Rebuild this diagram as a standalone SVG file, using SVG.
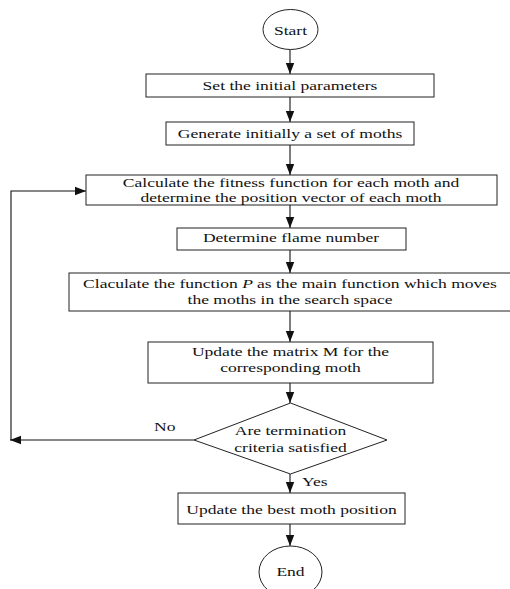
<svg xmlns="http://www.w3.org/2000/svg" width="510" height="589" viewBox="0 0 510 589">
<style>
.box{fill:#fff;stroke:#222;stroke-width:1}
.t{font-family:"Liberation Serif","Times New Roman",serif;font-size:13.5px;fill:#111;text-anchor:middle}
.l{font-family:"Liberation Serif","Times New Roman",serif;font-size:13.5px;fill:#111}
.c{fill:none;stroke:#111;stroke-width:1.1}
</style>
<defs>
<marker id="ah" markerUnits="userSpaceOnUse" markerWidth="12" markerHeight="10" refX="11" refY="5" orient="auto">
<path d="M0,0.8 L11,5 L0,9.2 Z" fill="#111"/>
</marker>
</defs>
<rect width="510" height="589" fill="#fff"/>
<g id="connectors">
<path class="c" d="M290,49.5 V74" marker-end="url(#ah)"/>
<path class="c" d="M290,97 V122" marker-end="url(#ah)"/>
<path class="c" d="M290,145 V175" marker-end="url(#ah)"/>
<path class="c" d="M290,205 V228" marker-end="url(#ah)"/>
<path class="c" d="M290,250 V273" marker-end="url(#ah)"/>
<path class="c" d="M290,311 V342" marker-end="url(#ah)"/>
<path class="c" d="M290,383 V403" marker-end="url(#ah)"/>
<path class="c" d="M290,474 V493" marker-end="url(#ah)"/>
<path class="c" d="M290,524 V546" marker-end="url(#ah)"/>
<path class="c" d="M194,440 H10" marker-end="url(#ah)"/>
<path class="c" d="M11,440 V191 H86" marker-end="url(#ah)"/>
<text class="l" transform="translate(154,431) scale(1.3,1)">No</text>
<text class="l" transform="translate(302,486) scale(1.3,1)">Yes</text>
</g>
<g id="start">
<ellipse class="box" cx="290.5" cy="29.5" rx="27.5" ry="20"/>
<text class="t" transform="translate(290.5,34.5) scale(1.3,1)">Start</text>
</g>
<g id="set-params">
<rect class="box" x="146" y="74" width="288" height="23"/>
<text class="t" transform="translate(290,90) scale(1.3,1)">Set the initial parameters</text>
</g>
<g id="generate">
<rect class="box" x="166" y="122" width="248" height="23"/>
<text class="t" transform="translate(290,138) scale(1.3,1)">Generate initially a set of moths</text>
</g>
<g id="fitness">
<rect class="box" x="86" y="175" width="411" height="30"/>
<text class="t" transform="translate(291,187) scale(1.3,1)">Calculate the fitness function for each moth and</text>
<text class="t" transform="translate(291,201.5) scale(1.3,1)">determine the position vector of each moth</text>
</g>
<g id="flame">
<rect class="box" x="177" y="228" width="229" height="22"/>
<text class="t" transform="translate(291,242) scale(1.3,1)">Determine flame number</text>
</g>
<g id="function-p">
<rect class="box" x="69" y="273" width="442" height="38"/>
<text class="t" transform="translate(290,288) scale(1.3,1)">Claculate the function <tspan font-style="italic">P</tspan><tspan dx="3">as the main function which moves</tspan></text>
<text class="t" transform="translate(290,303.5) scale(1.3,1)">the moths in the search space</text>
</g>
<g id="update-m">
<rect class="box" x="148" y="342" width="285" height="41"/>
<text class="t" transform="translate(290.5,356) scale(1.3,1)">Update the matrix M for the</text>
<text class="t" transform="translate(290.5,371.5) scale(1.3,1)">corresponding moth</text>
</g>
<g id="termination">
<polygon class="box" points="290.5,403 387,440 290.5,474 194,440"/>
<text class="t" transform="translate(290.5,435) scale(1.3,1)">Are termination</text>
<text class="t" transform="translate(290.5,452) scale(1.3,1)">criteria satisfied</text>
</g>
<g id="update-best">
<rect class="box" x="178" y="493" width="227" height="31"/>
<text class="t" transform="translate(291.5,514) scale(1.3,1)">Update the best moth position</text>
</g>
<g id="end">
<ellipse class="box" cx="290.5" cy="572" rx="31.5" ry="26"/>
<text class="t" transform="translate(290.5,576) scale(1.3,1)">End</text>
</g>
</svg>
